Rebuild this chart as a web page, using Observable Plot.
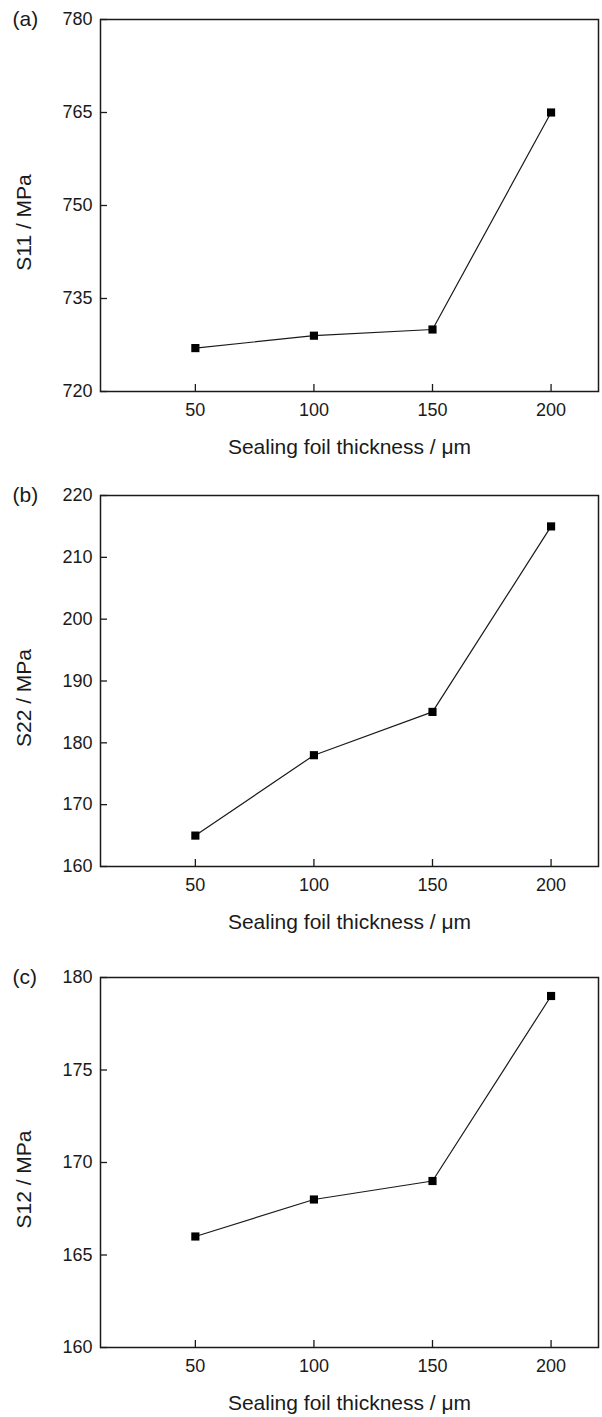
<!DOCTYPE html>
<html>
<head>
<meta charset="utf-8">
<script src="https://cdn.jsdelivr.net/npm/d3@7"></script>
<script src="https://cdn.jsdelivr.net/npm/@observablehq/plot@0.6"></script>
<style>
  html, body { margin: 0; padding: 0; background: #fff; }
  #wrap { position: relative; width: 602px; height: 1417px; overflow: hidden; }
  #wrap > svg { position: absolute; left: 0; }
</style>
</head>
<body>
<div id="wrap"></div>
<script>
// ---- data ----
const thickness = [50, 100, 150, 200];
const s11 = [727, 729, 730, 765];
const s22 = [165, 178, 185, 215];
const s12 = [166, 168, 169, 179];
const xTicks = [50, 100, 150, 200];
const yTicksA = [720, 735, 750, 765, 780];
const yTicksB = [160, 170, 180, 190, 200, 210, 220];
const yTicksC = [160, 165, 170, 175, 180];
const xDomain = [10, 220];
const panelLetters = ["(a)", "(b)", "(c)"];
const yLabels = ["S11 / MPa", "S22 / MPa", "S12 / MPa"];
const xLabel = "Sealing foil thickness / \u03bcm";

const panels = [
  {values: s11, yTicks: yTicksA, yDomain: [720, 780], top: 0,   mt: 19, mb: 83, h: 474},
  {values: s22, yTicks: yTicksB, yDomain: [160, 220], top: 474, mt: 21, mb: 82, h: 474},
  {values: s12, yTicks: yTicksC, yDomain: [160, 180], top: 948, mt: 29, mb: 70, h: 469}
];

const font = "'Liberation Sans', Arial, Helvetica, sans-serif";
const ink = "#1a1a1a";
const W = 602, ML = 100, MR = 4;

const wrap = document.getElementById("wrap");
panels.forEach((p, i) => {
  const data = thickness.map((t, k) => ({t, v: p.values[k]}));
  const frameH = p.h - p.mt - p.mb;
  const frameW = W - ML - MR;
  const chart = Plot.plot({
    width: W,
    height: p.h,
    marginLeft: ML,
    marginRight: MR,
    marginTop: p.mt,
    marginBottom: p.mb,
    style: {fontFamily: font, color: ink, background: "#fff", overflow: "visible"},
    x: {domain: xDomain},
    y: {domain: p.yDomain},
    marks: [
      Plot.frame({stroke: ink, strokeWidth: 1.5}),
      // inward tick marks
      Plot.tickX(xTicks, {x: d => d, insetTop: frameH - 7, stroke: ink, strokeWidth: 1.3}),
      Plot.tickY(p.yTicks, {y: d => d, insetRight: frameW - 7, stroke: ink, strokeWidth: 1.3}),
      Plot.axisX(xTicks, {tickSize: 0, tickPadding: 12, fontSize: 18, label: null, fill: ink}),
      Plot.axisY(p.yTicks, {tickSize: 0, tickPadding: 8, fontSize: 18, label: null, fill: ink}),
      Plot.line(data, {x: "t", y: "v", stroke: ink, strokeWidth: 1.2}),
      Plot.dot(data, {x: "t", y: "v", symbol: "square", r: 4.6, fill: "#000", stroke: "none"}),
      Plot.text([xLabel], {frameAnchor: "bottom", lineAnchor: "top", textAnchor: "middle", dy: 48, fontSize: 21, fill: ink}),
      Plot.text([yLabels[i]], {frameAnchor: "left", rotate: -90, textAnchor: "middle", lineAnchor: "middle", dx: -76, dy: 17, fontSize: 21, fill: ink}),
      Plot.text([panelLetters[i]], {frameAnchor: "top-left", textAnchor: "start", lineAnchor: "middle", dx: -88, dy: 0, fontSize: 21, fill: ink})
    ]
  });
  chart.style.top = p.top + "px";
  wrap.appendChild(chart);
});
</script>
</body>
</html>
